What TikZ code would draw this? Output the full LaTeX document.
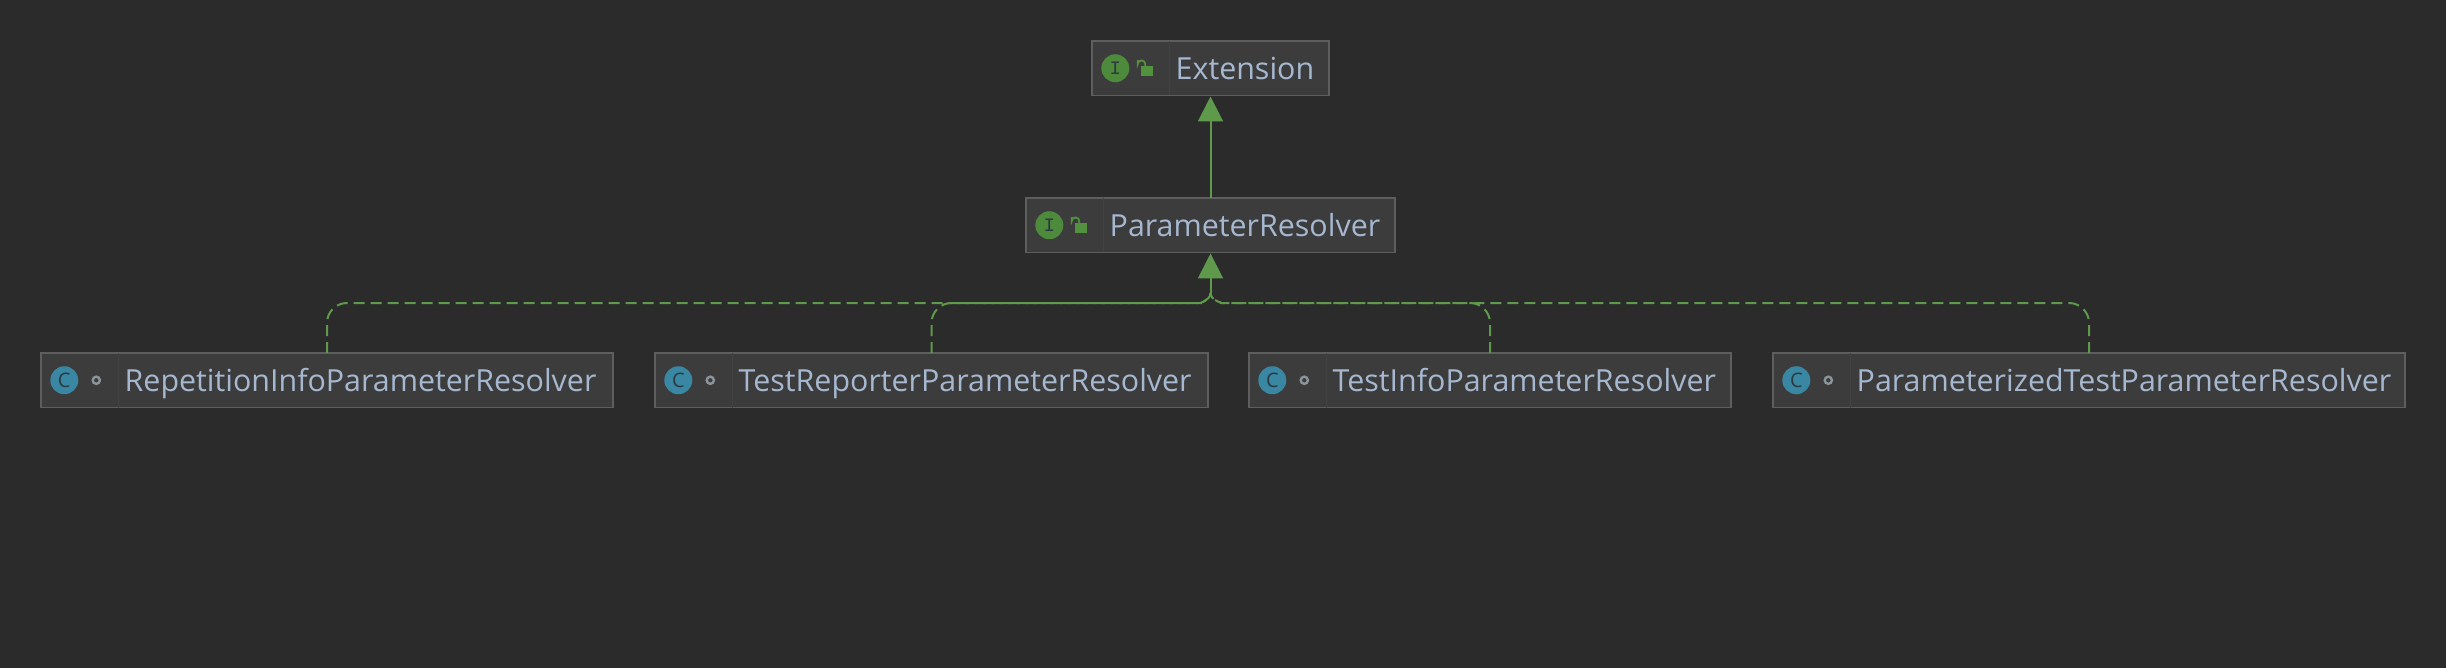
\documentclass[tikz,border=0pt]{standalone}
\usepackage{fontspec}
\setmainfont{Open Sans}
\usetikzlibrary{arrows.meta}
\definecolor{bgc}{HTML}{2B2B2B}
\definecolor{boxc}{HTML}{3C3C3C}
\definecolor{edgec}{HTML}{5E5E5E}
\definecolor{divc}{HTML}{424242}
\definecolor{txtc}{HTML}{A6B8D0}
\definecolor{linkc}{HTML}{5F9A4C}
\definecolor{igreen}{HTML}{4D8A3C}
\definecolor{lockc}{HTML}{52923F}
\definecolor{cblue}{HTML}{3A87A3}
\definecolor{inkc}{HTML}{2B3A40}
\definecolor{dotc}{HTML}{8A9499}
\tikzset{
  umlbox/.style={draw=edgec,fill=boxc,line width=1.3pt,inner sep=0pt,outer sep=0pt,minimum height=54.5pt,anchor=north west},
  umllabel/.style={text=txtc,font=\fontsize{30.4}{32}\selectfont,inner sep=0pt,anchor=base west},
  badge/.style={circle,minimum size=28pt,inner sep=0pt},
  ibadge/.style={badge,fill=igreen,text=inkc,font=\fontspec{Liberation Mono}\fontsize{19}{19}\selectfont},
  cbadge/.style={badge,fill=cblue,text=inkc,font=\fontsize{20}{20}\selectfont},
  realizes/.style={draw=linkc,line width=2pt,dash pattern=on 11pt off 6pt},
  stem/.style={draw=linkc,line width=2pt,-{Triangle[length=25pt,width=25pt]}},
}
% #1 name, #2 left x, #3 width, #4 top y, #5 label
\newcommand{\umlframe}[5]{%
  \node[umlbox,minimum width=#3pt] (#1) at (#2,#4) {};
  \draw[divc,line width=1pt] ([xshift=77pt]#1.north west) -- ([xshift=77pt]#1.south west);
  \node[umllabel] (#1-t) at ([xshift=83.5pt,yshift=-11pt]#1.west) {#5};
}
\newcommand{\ifacebox}[5]{%
  \umlframe{#1}{#2}{#3}{#4}{#5}
  \node[ibadge] (#1-i) at ([xshift=23.3pt]#1.west) {I};
  \fill[lockc] ([xshift=49.3pt,yshift=2pt]#1.west) rectangle ([xshift=61.3pt,yshift=-8pt]#1.west);
  \draw[lockc,line width=1.8pt] ([xshift=53.3pt,yshift=2pt]#1.west) -- ([xshift=53.3pt,yshift=4pt]#1.west) arc[start angle=0,end angle=180,radius=3.8pt] -- ++(0,4pt);
}
\newcommand{\classbox}[5]{%
  \umlframe{#1}{#2}{#3}{#4}{#5}
  \node[cbadge] (#1-i) at ([xshift=23.3pt]#1.west) {C};
  \draw[dotc,line width=2.4pt] ([xshift=55.3pt]#1.west) circle[radius=3.6pt];
}
\begin{document}
\begin{tikzpicture}[x=1pt,y=-1pt]
\useasboundingbox[fill=bgc] (0,0) rectangle (2446,668);
\ifacebox{ext}{1092}{237}{41}{Extension}
\ifacebox{par}{1026}{369}{198}{ParameterResolver}
\classbox{rep}{41}{572}{353}{RepetitionInfoParameterResolver}
\classbox{rpt}{655}{553}{353}{TestReporterParameterResolver}
\classbox{inf}{1249}{482}{353}{TestInfoParameterResolver}
\classbox{pzd}{1773}{632}{353}{ParameterizedTestParameterResolver}
\coordinate (join) at (1210.5,293);
\coordinate (railL) at (1181,303);
\coordinate (railR) at (1241,303);
\draw[realizes,rounded corners=20pt] (rep.north) |- (railL) .. controls (1198,303) and (1210.5,301) .. (join);
\draw[realizes,rounded corners=20pt] (rpt.north) |- (railL) .. controls (1198,303) and (1210.5,301) .. (join);
\draw[realizes,rounded corners=20pt] (inf.north) |- (railR) .. controls (1224,303) and (1210.5,301) .. (join);
\draw[realizes,rounded corners=20pt] (pzd.north) |- (railR) .. controls (1224,303) and (1210.5,301) .. (join);
\draw[stem] (join) -- ([yshift=-1pt]par.south);
\draw[stem] (par.north) -- ([yshift=-1pt]ext.south);
\end{tikzpicture}
\end{document}
